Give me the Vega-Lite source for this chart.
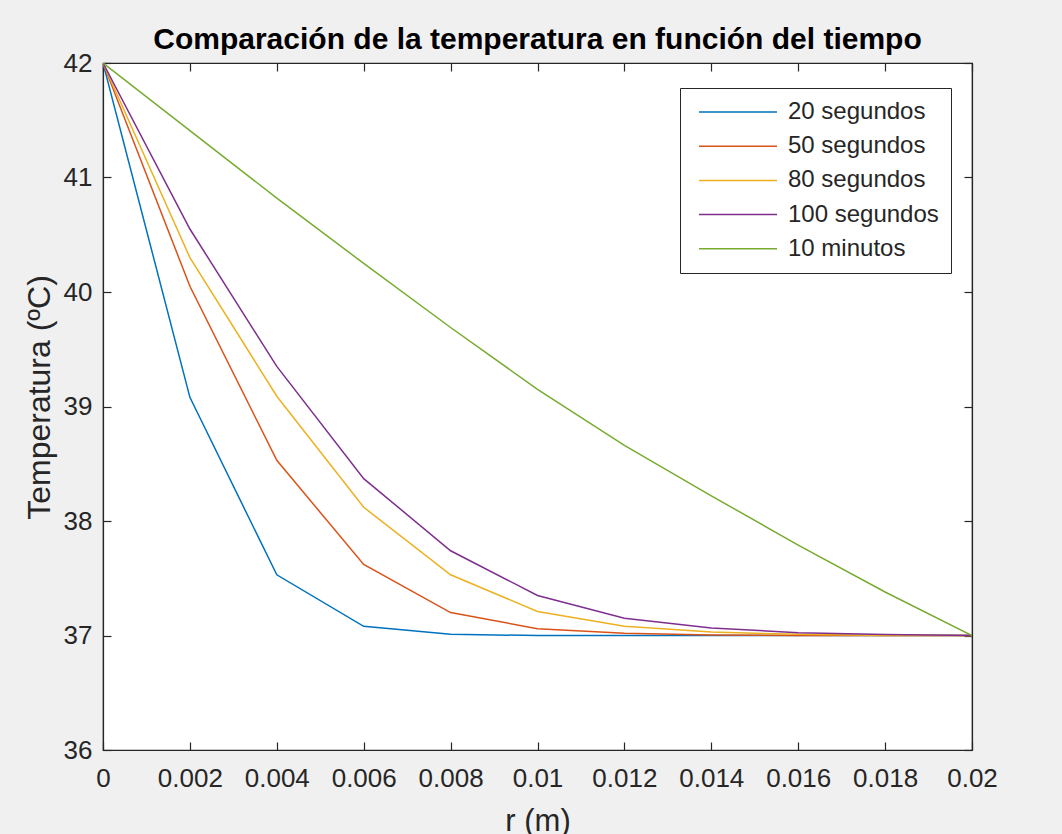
{
  "$schema": "https://vega.github.io/schema/vega-lite/v6.json",
  "autosize": "none",
  "width": 869,
  "height": 687,
  "padding": {"left": 103, "top": 63, "right": 90, "bottom": 84},
  "background": "#f0f0f0",
  "config": {
    "view": {"fill": "white", "stroke": "#262626", "strokeWidth": 1.2},
    "font": "Liberation Sans",
    "axis": {"grid": false, "domainColor": "#262626", "tickColor": "#262626", "tickSize": -8, "labelColor": "#262626", "titleColor": "#262626", "labelFont": "Liberation Sans", "titleFont": "Liberation Sans", "labelFontSize": 26, "titleFontSize": 32, "titleFontWeight": "normal", "domainWidth": 1.2, "tickWidth": 1.2, "labelFlush": false, "labelOverlap": false}
  },
  "title": {"text": "Comparación de la temperatura en función del tiempo", "fontSize": 30, "fontWeight": "bold", "color": "black", "anchor": "middle", "offset": -5, "font": "Liberation Sans"},
  "data": {"values": [
    {"serie": "20 segundos", "r": 0, "T": 42},
    {"serie": "20 segundos", "r": 0.002, "T": 39.08},
    {"serie": "20 segundos", "r": 0.004, "T": 37.53},
    {"serie": "20 segundos", "r": 0.006, "T": 37.08},
    {"serie": "20 segundos", "r": 0.008, "T": 37.01},
    {"serie": "20 segundos", "r": 0.01, "T": 37.0},
    {"serie": "20 segundos", "r": 0.012, "T": 37.0},
    {"serie": "20 segundos", "r": 0.014, "T": 37.0},
    {"serie": "20 segundos", "r": 0.016, "T": 37.0},
    {"serie": "20 segundos", "r": 0.018, "T": 37.0},
    {"serie": "20 segundos", "r": 0.02, "T": 37.0},
    {"serie": "50 segundos", "r": 0, "T": 42},
    {"serie": "50 segundos", "r": 0.002, "T": 40.05},
    {"serie": "50 segundos", "r": 0.004, "T": 38.53},
    {"serie": "50 segundos", "r": 0.006, "T": 37.62},
    {"serie": "50 segundos", "r": 0.008, "T": 37.2},
    {"serie": "50 segundos", "r": 0.01, "T": 37.06},
    {"serie": "50 segundos", "r": 0.012, "T": 37.02},
    {"serie": "50 segundos", "r": 0.014, "T": 37.005},
    {"serie": "50 segundos", "r": 0.016, "T": 37.0},
    {"serie": "50 segundos", "r": 0.018, "T": 37.0},
    {"serie": "50 segundos", "r": 0.02, "T": 37.0},
    {"serie": "80 segundos", "r": 0, "T": 42},
    {"serie": "80 segundos", "r": 0.002, "T": 40.3},
    {"serie": "80 segundos", "r": 0.004, "T": 39.09},
    {"serie": "80 segundos", "r": 0.006, "T": 38.12},
    {"serie": "80 segundos", "r": 0.008, "T": 37.53},
    {"serie": "80 segundos", "r": 0.01, "T": 37.21},
    {"serie": "80 segundos", "r": 0.012, "T": 37.08},
    {"serie": "80 segundos", "r": 0.014, "T": 37.03},
    {"serie": "80 segundos", "r": 0.016, "T": 37.01},
    {"serie": "80 segundos", "r": 0.018, "T": 37.0},
    {"serie": "80 segundos", "r": 0.02, "T": 37.0},
    {"serie": "100 segundos", "r": 0, "T": 42},
    {"serie": "100 segundos", "r": 0.002, "T": 40.55},
    {"serie": "100 segundos", "r": 0.004, "T": 39.35},
    {"serie": "100 segundos", "r": 0.006, "T": 38.37},
    {"serie": "100 segundos", "r": 0.008, "T": 37.74},
    {"serie": "100 segundos", "r": 0.01, "T": 37.35},
    {"serie": "100 segundos", "r": 0.012, "T": 37.15},
    {"serie": "100 segundos", "r": 0.014, "T": 37.065},
    {"serie": "100 segundos", "r": 0.016, "T": 37.025},
    {"serie": "100 segundos", "r": 0.018, "T": 37.008},
    {"serie": "100 segundos", "r": 0.02, "T": 37.0},
    {"serie": "10 minutos", "r": 0, "T": 42},
    {"serie": "10 minutos", "r": 0.002, "T": 41.41},
    {"serie": "10 minutos", "r": 0.004, "T": 40.82},
    {"serie": "10 minutos", "r": 0.006, "T": 40.25},
    {"serie": "10 minutos", "r": 0.008, "T": 39.69},
    {"serie": "10 minutos", "r": 0.01, "T": 39.15},
    {"serie": "10 minutos", "r": 0.012, "T": 38.66},
    {"serie": "10 minutos", "r": 0.014, "T": 38.22},
    {"serie": "10 minutos", "r": 0.016, "T": 37.79},
    {"serie": "10 minutos", "r": 0.018, "T": 37.38},
    {"serie": "10 minutos", "r": 0.02, "T": 37.0}
  ]},
  "layer": [
    {
      "mark": {"type": "line", "strokeWidth": 1.5, "clip": true},
      "encoding": {
        "x": {"field": "r", "type": "quantitative", "scale": {"domain": [0, 0.02], "nice": false, "zero": false}, "axis": {"orient": "bottom", "values": [0, 0.002, 0.004, 0.006, 0.008, 0.01, 0.012, 0.014, 0.016, 0.018, 0.02], "format": "~g", "title": "r (m)", "titleFontSize": 31, "labelPadding": 23, "titleY": 56}},
        "y": {"field": "T", "type": "quantitative", "scale": {"domain": [36, 42], "nice": false, "zero": false}, "axis": {"orient": "left", "values": [36, 37, 38, 39, 40, 41, 42], "format": "d", "title": "Temperatura (ºC)", "labelPadding": 19, "titleX": -47, "titleY": 334}},
        "color": {"field": "serie", "type": "nominal", "sort": ["20 segundos", "50 segundos", "80 segundos", "100 segundos", "10 minutos"], "scale": {"domain": ["20 segundos", "50 segundos", "80 segundos", "100 segundos", "10 minutos"], "range": ["#0072BD", "#D95319", "#EDB120", "#7E2F8E", "#77AC30"]}, "legend": {"title": null, "orient": "none", "legendX": 577, "legendY": 25, "symbolType": "M-0.625,0H9.125", "symbolSize": 256, "symbolStrokeWidth": 1.5, "symbolFillColor": "transparent", "labelFontSize": 24, "labelColor": "#262626", "labelFont": "Liberation Sans", "labelOffset": 72, "rowPadding": 10.2, "padding": 12, "fillColor": "white", "strokeColor": "#262626", "cornerRadius": 0}}
      }
    },
    {
      "mark": {"type": "line", "opacity": 0},
      "encoding": {
        "x": {"field": "r", "type": "quantitative", "scale": {"domain": [0, 0.02], "nice": false, "zero": false}, "axis": {"orient": "top", "values": [0, 0.002, 0.004, 0.006, 0.008, 0.01, 0.012, 0.014, 0.016, 0.018, 0.02], "labels": false, "title": null}},
        "y": {"field": "T", "type": "quantitative", "scale": {"domain": [36, 42], "nice": false, "zero": false}, "axis": {"orient": "right", "values": [36, 37, 38, 39, 40, 41, 42], "labels": false, "title": null}},
        "detail": {"field": "serie"}
      }
    }
  ],
  "resolve": {"axis": {"x": "independent", "y": "independent"}}
}
